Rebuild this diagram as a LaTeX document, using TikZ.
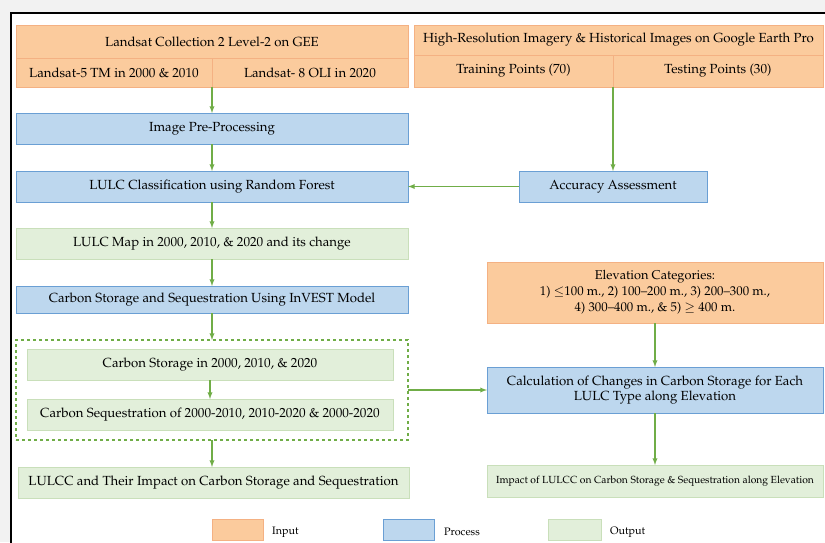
\documentclass[tikz,border=0pt]{standalone}
\usepackage[svgnames, dvipsnames]{xcolor}
\usepackage[T1]{fontenc}
\usepackage{mathpazo}
\usepackage{amsmath,amssymb}
\usetikzlibrary{calc, arrows.meta}
\definecolor{InFill}{HTML}{FBCB9D}
\definecolor{InEdge}{HTML}{F4B183}
\definecolor{ProcFill}{HTML}{BDD7EE}
\definecolor{ProcEdge}{HTML}{6A9FD4}
\definecolor{OutFill}{HTML}{E2EFDA}
\definecolor{OutEdge}{HTML}{C9DFBA}
\definecolor{FlowGreen}{HTML}{70AD47}
\definecolor{PageGray}{HTML}{F2F2F2}
\tikzset{>=latex,
  box/.style={line width=0.8pt, inner sep=0pt, outer sep=0pt, align=center,
    font=\fontsize{13.2}{15.5}\selectfont},
  inbox/.style={box, draw=InEdge, fill=InFill},
  procbox/.style={box, draw=ProcEdge, fill=ProcFill},
  outbox/.style={box, draw=OutEdge, fill=OutFill},
  flow/.style={draw=FlowGreen, line width=1.3pt, ->},
  legtext/.style={anchor=west, inner sep=0pt, font=\fontsize{10.8}{12}\selectfont}
}

\begin{document}
\begin{tikzpicture}[x=1pt, y=-1pt]
\useasboundingbox (0,0) rectangle (825,542);
\clip (0,0) rectangle (825,542);
\fill[PageGray] (0,0) rectangle (825,542);
\fill[white] (11,13) rectangle (830,550);
\draw[line width=2pt] (11,550) -- (11,13) -- (830,13);

% inputs
\node[inbox, minimum width=392, minimum height=33.5] (gee)   at (212,41.75) {Landsat Collection 2 Level-2 on GEE};
\node[inbox, minimum width=196, minimum height=28.5] (l5)    at (114,72.75) {Landsat-5 TM in 2000 \& 2010};
\node[inbox, minimum width=196, minimum height=28.5] (l8)    at (310,72.75) {Landsat- 8 OLI in 2020};
\node[inbox, minimum width=409, minimum height=30]   (hri)   at (618.5,40)  {High-Resolution Imagery \& Historical Images on Google Earth Pro};
\node[inbox, minimum width=199, minimum height=32]   (train) at (513.5,71)  {Training Points (70)};
\node[inbox, minimum width=210, minimum height=32]   (test)  at (718,71)    {Testing Points (30)};
\node[inbox, minimum width=336, minimum height=61, font=\fontsize{12.8}{16}\selectfont] (elev) at (655,292.5)
  {Elevation Categories:\\ 1) $\leq$100 m., 2) 100--200 m., 3) 200--300 m.,\\ 4) 300--400 m., \& 5) $\geq$ 400 m.};

% processes
\node[procbox, minimum width=392, minimum height=31] (pre) at (212,128.5) {Image Pre-Processing};
\node[procbox, minimum width=392, minimum height=31] (cls) at (212,186.5) {LULC Classification using Random Forest};
\node[procbox, minimum width=188, minimum height=31] (acc) at (613,186.5) {Accuracy Assessment};
\node[procbox, minimum width=392, minimum height=27] (inv) at (212,299.5) {Carbon Storage and Sequestration Using InVEST Model};
\node[procbox, minimum width=336, minimum height=46] (calc) at (655,390)
  {Calculation of Changes in Carbon Storage for Each\\ LULC Type along Elevation};

% outputs
\node[outbox, minimum width=392, minimum height=31] (map) at (212,243.5) {LULC Map in 2000, 2010, \& 2020 and its change};
\node[draw=FlowGreen, line width=1.2pt, dashed, inner sep=0pt, outer sep=0pt,
  minimum width=392, minimum height=100] (grp) at (212,390) {};
\node[outbox, minimum width=366, minimum height=31] (store) at (210,364.5) {Carbon Storage in 2000, 2010, \& 2020};
\node[outbox, minimum width=366, minimum height=31] (seq)   at (210,414.5) {Carbon Sequestration of 2000-2010, 2010-2020 \& 2000-2020};
\node[outbox, minimum width=391, minimum height=31] (lulcc) at (213.5,482.5) {LULCC and Their Impact on Carbon Storage and Sequestration};
\node[outbox, minimum width=336, minimum height=32, font=\fontsize{10.3}{12}\selectfont] (imp) at (655,481)
  {Impact of LULCC on Carbon Storage \& Sequestration along Elevation};

% legend
\node[inbox, minimum width=51, minimum height=21]   (legin)   at (237.5,529.5) {};
\node[procbox, minimum width=51, minimum height=21] (legproc) at (408.5,529.5) {};
\node[outbox, minimum width=53, minimum height=21]  (legout)  at (574.5,529.5) {};
\node[legtext] (legintxt)   at (272,532) {Input};
\node[legtext] (legproctxt) at (444,532) {Process};
\node[legtext] (legouttxt)  at (610,532) {Output};

% connectors
\path
(l5.south east)    edge[flow] (pre.north)
(pre.south)        edge[flow] (cls.north)
(train.south east) edge[flow] (acc.north)
(acc.west)         edge[flow] (cls.east)
(cls.south)        edge[flow] (map.north)
(map.south)        edge[flow] (inv.north)
(inv.south)        edge[flow] (grp.north)
(store.south)      edge[flow] (store.south |- seq.north)
(grp.south)        edge[flow] (grp.south |- lulcc.north)
(grp.east)         edge[flow] (calc.west)
(elev.south)       edge[flow] (calc.north)
(calc.south)       edge[flow] (imp.north);
\end{tikzpicture}
\end{document}
